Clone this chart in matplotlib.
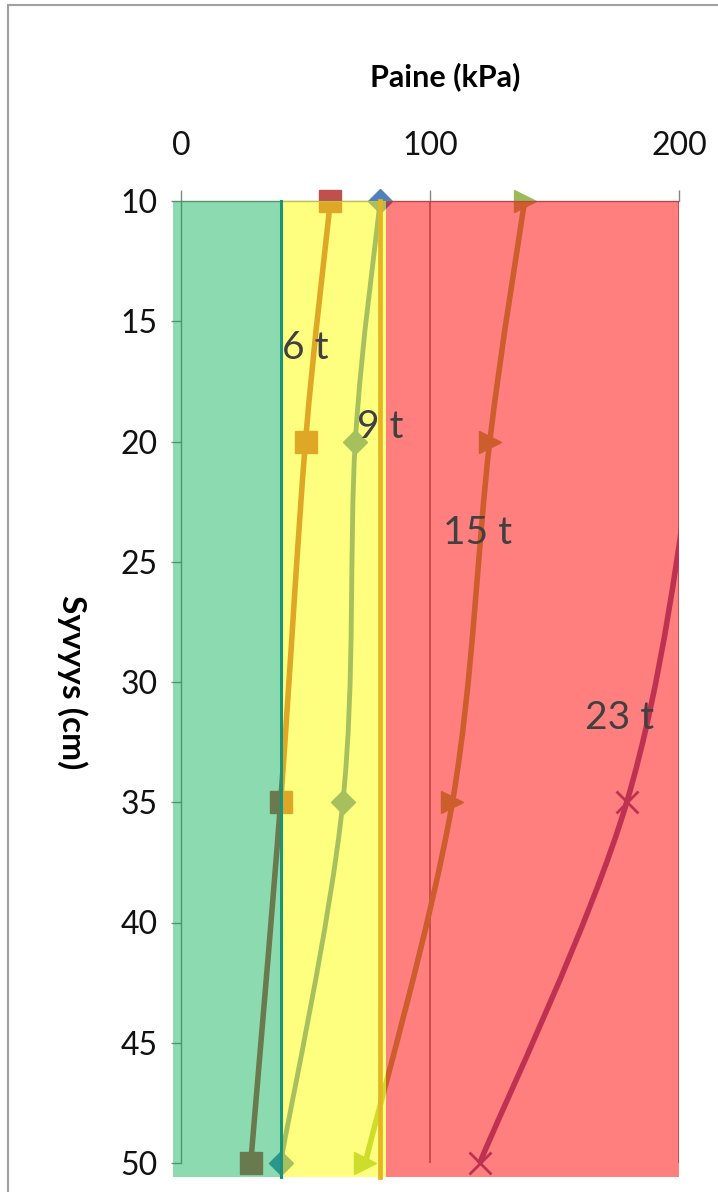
#!/usr/bin/python3

# Soil pressure vs depth for different axle loads, with coloured pressure zones
import numpy as np
import matplotlib
matplotlib.use("Agg")
from matplotlib import pyplot as plt
from matplotlib.path import Path
from matplotlib.patches import PathPatch, Rectangle

plt.rcParams['font.family'] = ['Lato', 'DejaVu Sans']

depth = [10, 20, 35, 50]
p_6t = [60, 50, 40, 28]
p_9t = [80, 70, 65, 40]
p_15t = [138, 124, 109, 74]
p_23t = [214, 206, 179, 120]

series_names = ["6 t", "9 t", "15 t", "23 t"]
label_kpa = [50, 80, 119, 176]
label_depth = [16.1, 19.4, 23.8, 31.5]

limit_kpa = [40, 80]


def smooth_path(xs, ys):
    # Catmull-Rom through the points, written as cubic Bezier segments
    pts = np.column_stack([xs, ys]).astype(float)
    n = len(pts)
    verts = [pts[0]]
    codes = [Path.MOVETO]
    for i in range(n - 1):
        p0 = pts[i - 1] if i > 0 else pts[i]
        p1, p2 = pts[i], pts[i + 1]
        p3 = pts[i + 2] if i + 2 < n else pts[i + 1]
        verts += [p1 + (p2 - p0) / 6, p2 - (p3 - p1) / 6, p2]
        codes += [Path.CURVE4] * 3
    return Path(verts, codes)


fig = plt.figure(figsize=(7.18, 11.92), dpi=100)
ax = fig.add_axes([181/718, 1 - 1163/1192, 498/718, 962/1192])
ax.set_xlim(0, 200)
ax.set_ylim(50, 10)

ax.xaxis.tick_top()
ax.set_xticks([0, 100, 200])
ax.set_yticks(range(10, 51, 5))
ax.tick_params(axis="x", length=8, width=1, color="#868686", pad=21,
               labelsize=23, labelcolor="#111111")
ax.tick_params(axis="y", length=7, width=1, color="#868686", pad=10,
               labelsize=23, labelcolor="#111111")
for side in ["right", "bottom"]:
    ax.spines[side].set_visible(False)
for side in ["top", "left"]:
    ax.spines[side].set_color("#868686")
    ax.spines[side].set_linewidth(1)

ax.axvline(100, color="#868686", lw=1.2, zorder=1)
ax.axvline(200, color="#868686", lw=1.2, zorder=1)

colors = ["#C0504D", "#4F81BD", "#9BBB59", "#8064A2"]
markers = ["s", "D", ">", "x"]
msizes = [16, 12, 16, 16]
widths = [4, 3.5, 4, 4]
for vals, c, m, ms, lw in zip([p_6t, p_9t, p_15t, p_23t], colors, markers, msizes, widths):
    ax.add_patch(PathPatch(smooth_path(vals, depth), fill=False, edgecolor=c,
                           lw=lw, capstyle="round", zorder=2))
    vals = np.array(vals)
    keep = vals <= 200
    ax.plot(vals[keep], np.array(depth)[keep], ls="none", marker=m, ms=ms,
            color=c, mec=c, mew=2 if m == "x" else 1, clip_on=False, zorder=2.1)

# pressure zones laid over the curves
zones = [(-3.3, 40, "#00B050", 0.45), (40, 82.3, "#FFFF00", 0.5), (82.3, 200, "#FF0000", 0.5)]
for x0, x1, c, a in zones:
    ax.add_patch(Rectangle((x0, 10), x1 - x0, 40.6, facecolor=c, alpha=a, lw=0,
                           clip_on=False, zorder=3))

ax.plot([limit_kpa[0]] * 2, [10, 50.6], color="#1a9478", lw=2.2, clip_on=False, zorder=3.5)
ax.plot([limit_kpa[1]] * 2, [10, 50.6], color="#e6b422", lw=3.4, clip_on=False, zorder=3.5)

for name, x, d in zip(series_names, label_kpa, label_depth):
    ax.text(x, d, name, fontsize=28, color="#404040", ha="center", va="center", zorder=5)

fig.text(445/718, 1 - 77/1192, "Paine (kPa)", fontsize=22, fontweight="bold",
         ha="center", va="center")
fig.text(72/718, 1 - 682/1192, "Syvyys (cm)", fontsize=24, fontweight="bold",
         rotation=270, ha="center", va="center")

fig.patches.append(Rectangle((7.5/718, -0.1), 1.2, 1.1 - 4.5/1192, transform=fig.transFigure,
                             fill=False, edgecolor="#a0a0a0", lw=1.5))

fig.savefig("out.png", dpi=100)
